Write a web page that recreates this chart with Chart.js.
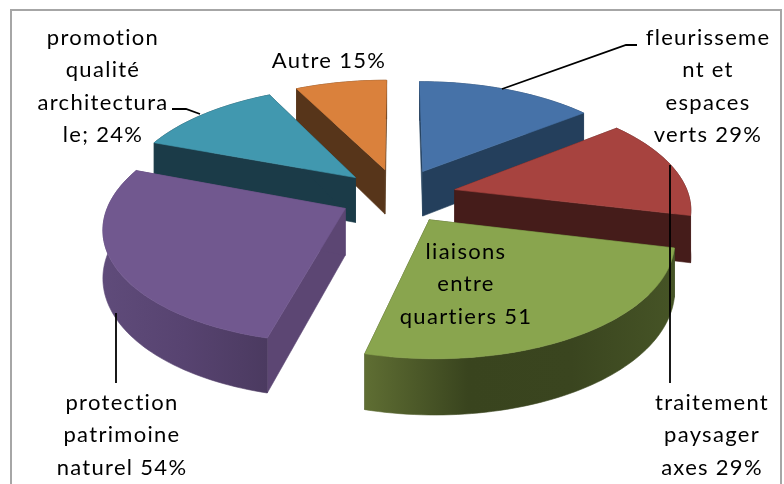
<!DOCTYPE html>
<html>
<head>
<meta charset="utf-8">
<style>html,body{margin:0;padding:0;background:#fff}canvas{display:block}</style>
<script src="https://cdn.jsdelivr.net/npm/chart.js@4"></script>
</head>
<body>
<canvas id="c" width="784" height="484"></canvas>
<script>
const categories = ["fleurissement et espaces verts","traitement paysager axes","liaisons entre quartiers","protection patrimoine naturel","promotion qualité architecturale","Autre"];
const values = [29, 29, 51, 54, 24, 15];
const topColors = ["#4672A8","#A7433F","#89A54E","#71588F","#4198AF","#DA813C"];
const sideColors = ["#243F5C","#451C1A","#3A451F","#5C4673","#1B3B48","#57351A"];
const wallStops = [
  ["#243F5C","#243F5C"],
  ["#451C1A","#451C1A"],
  ["#5F6E33","#39441E","#3A451F","#465426"],
  ["#5F4B7A","#574370","#4B3A60"],
  ["#1B3B48","#1B3B48"],
  ["#57351A","#57351A"]
];
const labelLines = [
  ["fleurisseme","nt et","espaces","verts 29%"],
  ["traitement","paysager","axes 29%"],
  ["liaisons","entre","quartiers 51"],
  ["protection","patrimoine","naturel 54%"],
  ["promotion","qualité","architectura","le; 24%"],
  ["Autre 15%"]
];
const labelAnchors = [[708,45],[712,410],[466,259],[122,410],[103,45],[329,68]];
const leaderLines = [
  [[502,89],[626,45],[637,45]],
  [[670,165],[670,383]],
  [[116,313],[116,383]],
  [[172,109],[186,109],[200,114]]
];
const view = {cx:398, cy:195.5, a:234, b:110, p:0.15, explode:0.25, height:46};
const paintOrder = [5,0,4,1,3,2];

function project(u, v, lift) {
  const w = 1 - view.p * v;
  return [view.cx + view.a * u / w, view.cy + view.b * v / w + (lift ? view.height / w : 0)];
}
const pie3d = {
  id: 'pie3d',
  beforeDatasetsDraw(chart) {
    const ctx = chart.ctx;
    const arcs = chart.getDatasetMeta(0).data;
    for (const i of paintOrder) {
      const el = arcs[i];
      const a0 = el.startAngle + Math.PI / 2, a1 = el.endAngle + Math.PI / 2;
      const mid = (a0 + a1) / 2;
      const ou = view.explode * Math.sin(mid), ov = -view.explode * Math.cos(mid);
      const n = Math.max(8, Math.round((a1 - a0) * 40));
      const rim = [];
      for (let k = 0; k <= n; k++) {
        const t = a0 + (a1 - a0) * k / n;
        rim.push([ou + Math.sin(t), ov - Math.cos(t)]);
      }
      const poly = (pts, fill) => {
        ctx.beginPath();
        pts.forEach((q, j) => j ? ctx.lineTo(q[0], q[1]) : ctx.moveTo(q[0], q[1]));
        ctx.closePath();
        ctx.fillStyle = fill; ctx.strokeStyle = fill; ctx.lineWidth = 0.6;
        ctx.fill(); ctx.stroke();
      };
      const apex = [ou, ov];
      const side = sideColors[i];
      for (const e of [rim[0], rim[n]]) {
        poly([project(apex[0],apex[1],false), project(e[0],e[1],false), project(e[0],e[1],true), project(apex[0],apex[1],true)], side);
      }
      const tops = rim.map(q => project(q[0], q[1], false));
      const bots = rim.map(q => project(q[0], q[1], true)).reverse();
      const xs = tops.map(q => q[0]);
      const g = ctx.createLinearGradient(Math.min(...xs), 0, Math.max(...xs), 0);
      wallStops[i].forEach((c, j, all) => g.addColorStop(j / (all.length - 1), c));
      poly(tops.concat(bots), g);
      poly([project(apex[0],apex[1],false)].concat(tops), el.options.backgroundColor);
    }
    return false;
  },
  afterDraw(chart) {
    const ctx = chart.ctx;
    ctx.save();
    ctx.strokeStyle = "#A6A6A6"; ctx.lineWidth = 2;
    ctx.beginPath(); ctx.moveTo(11, 484); ctx.lineTo(11, 10); ctx.lineTo(781, 10); ctx.lineTo(781, 484); ctx.stroke();
    ctx.strokeStyle = "#000"; ctx.lineWidth = 1.8;
    for (const l of leaderLines) {
      ctx.beginPath();
      l.forEach((q, j) => j ? ctx.lineTo(q[0], q[1]) : ctx.moveTo(q[0], q[1]));
      ctx.stroke();
    }
    ctx.fillStyle = "#000"; ctx.textAlign = "center"; ctx.textBaseline = "alphabetic";
    ctx.font = '22px Lato';
    ctx.letterSpacing = "1.3px";
    labelLines.forEach((lines, i) => lines.forEach((s, j) =>
      ctx.fillText(s, labelAnchors[i][0], labelAnchors[i][1] + j * 32.4)));
    ctx.restore();
  }
};
new Chart(document.getElementById('c'), {
  type: 'pie',
  data: { labels: categories, datasets: [{ data: values, backgroundColor: topColors, borderWidth: 0 }] },
  options: {
    responsive: false, animation: false, rotation: 0,
    plugins: { legend: { display: false }, tooltip: { enabled: false } }
  },
  plugins: [pie3d]
});
</script>
</body>
</html>
